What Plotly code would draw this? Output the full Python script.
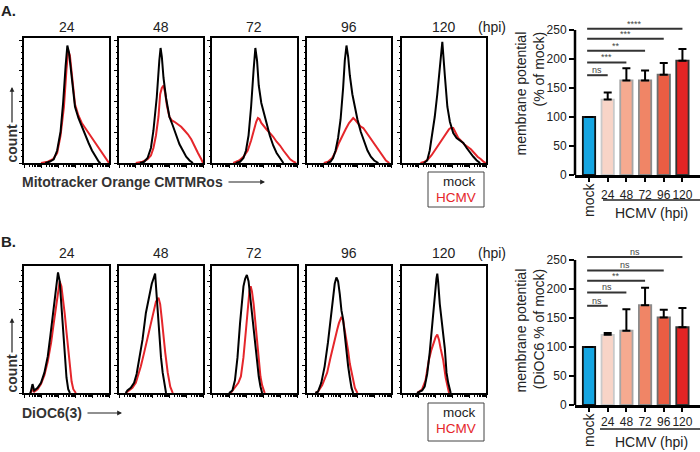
import math
import plotly.graph_objects as go

W, H = 700, 452

# ---------------- data ----------------
hpi_labels = ["24", "48", "72", "96", "120"]

# Flow histograms: (channel position 0-100, % of panel height)
mito_mock = [
    [(25,0),(30,1),(35,3),(39,10),(43,25),(46,48),(49,78),(51,94),(53,88),(56,68),(60,45),(64,36),(68,29),(72,22),(76,16),(80,10),(84,5),(88,1),(90,0)],
    [(25,0),(30,1),(34,4),(38,12),(41,26),(45,53),(48,82),(49.5,92),(51,85),(53,68),(56,52),(60,37),(64,30),(68,22),(72,15),(76,10),(80,5),(84,2),(88,0)],
    [(28,0),(33,1),(37,4),(40,10),(43,22),(46,45),(49,75),(51,92),(53,82),(55,62),(58,48),(61,40),(64,32),(68,22),(72,14),(76,8),(80,4),(84,0)],
    [(24,0),(28,1),(31,4),(34,10),(37,20),(40,35),(43,60),(45,82),(47,94),(49,85),(51,70),(54,55),(57,45),(60,35),(64,25),(68,17),(72,10),(76,5),(80,2),(85,0)],
    [(26,0),(30,2),(33,10),(36,22),(39,37),(42,55),(45,78),(47,92),(48,97),(51,70),(54,45),(57,33),(61,24),(65,20),(69,18),(73,16),(77,12),(81,8),(85,5),(89,2),(93,0)],
]
mito_hcmv = [
    [(20,0),(28,1),(34,3),(39,8),(43,22),(47,45),(50,75),(52,90),(54,86),(57,66),(60,47),(64,38),(68,32),(72,28),(76,24),(80,19),(84,15),(88,11),(92,7),(96,3),(100,0)],
    [(20,0),(28,1),(34,3),(38,6),(41,12),(44,22),(47,37),(49,55),(51,60),(53,62),(55,56),(57,46),(60,37),(63,34),(66,33),(70,31),(74,29),(78,26),(82,23),(86,19),(90,13),(94,8),(98,3),(100,0)],
    [(25,0),(32,2),(37,5),(42,10),(46,18),(49,26),(52,33),(54,36),(56,35),(58,32),(61,29),(64,27),(68,24),(72,21),(76,17),(80,14),(84,10),(88,6),(92,3),(96,1),(99,0)],
    [(20,0),(25,1),(30,4),(34,9),(38,16),(42,22),(46,27),(50,32),(53,35),(55,36),(58,34),(61,31),(64,29),(67,28),(70,25),(74,22),(78,17),(82,13),(86,9),(90,5),(94,2),(98,0)],
    [(22,0),(27,1),(31,3),(35,6),(39,10),(43,14),(47,18),(50,22),(53,25),(56,27),(58,28),(61,28),(64,24),(67,20),(70,18),(74,15),(78,13),(82,11),(86,8),(90,5),(94,3),(97,1),(100,0)],
]
dioc_mock = [
    [(7,0),(8,1),(10,7),(12,2),(16,4),(20,8),(24,16),(28,29),(31,45),(34,62),(37,82),(39,90),(40,95),(42,88),(44,68),(46,45),(48,28),(50,12),(52,3),(54,0)],
    [(8,0),(10,2),(14,4),(18,8),(21,15),(24,26),(28,42),(32,63),(36,78),(39,86),(41,90),(43,94),(45,75),(48,44),(50,28),(52,16),(54,6),(56,0)],
    [(20,0),(24,2),(27,10),(30,28),(33,55),(35,71),(37,84),(39,90),(41,93),(43,88),(45,75),(47,62),(49,50),(51,35),(53,22),(55,13),(57,5),(59,0)],
    [(10,0),(13,1),(17,8),(21,21),(25,40),(28,58),(31,75),(33,86),(35,91),(37,88),(39,78),(41,65),(43,58),(45,45),(47,32),(49,21),(51,12),(53,4),(55,0)],
    [(18,0),(24,2),(27,5),(30,15),(33,32),(36,55),(39,80),(41,90),(42,94),(43,88),(45,70),(47,58),(49,50),(51,35),(53,16),(55,8),(58,0)],
]
dioc_hcmv = [
    [(8,0),(10,3),(12,1),(16,3),(20,7),(24,14),(28,25),(32,40),(35,55),(38,70),(40,80),(42,88),(44,84),(46,75),(48,62),(50,48),(52,33),(54,20),(56,9),(58,3),(61,0)],
    [(8,0),(12,2),(16,4),(20,8),(26,21),(30,32),(36,50),(40,62),(44,72),(47,75),(49,70),(51,58),(53,44),(55,32),(58,16),(61,5),(64,0)],
    [(22,0),(27,4),(31,8),(34,13),(37,28),(40,50),(42,68),(44,80),(45.5,84),(47,80),(49,70),(51,55),(53,40),(55,26),(57,13),(59,6),(62,0)],
    [(10,0),(13,1),(18,6),(24,16),(28,28),(33,43),(36,50),(38,55),(40,58),(41,60),(43,57),(45,50),(47,43),(49,33),(51,23),(53,16),(55,9),(57,4),(60,0)],
    [(18,0),(24,3),(28,10),(32,26),(35,34),(38,40),(40,44),(42,46),(44,42),(46,35),(49,26),(52,12),(54,5),(56,0)],
]

bar_categories = ["mock", "24", "48", "72", "96", "120"]
mito_means = [100, 130, 163, 163, 173, 197]
mito_err = [0, 12, 21, 17, 20, 20]
dioc_means = [100, 121, 128, 172, 151, 134]
dioc_err = [0, 3, 37, 30, 13, 33]
sig_end = [1, 2, 3, 4, 5]
mito_sig_level = [172, 194, 214, 235, 252]
mito_sig_text = ["ns", "***", "**", "***", "****"]
dioc_sig_level = [171, 194, 214, 232, 255]
dioc_sig_text = ["ns", "ns", "**", "ns", "ns"]
y_ticks = [0, 50, 100, 150, 200, 250]

# ---------------- style ----------------
RED = "#e5262b"
TXT = "#222222"
bar_colors = ["#16a6e2", "#f8d4c7", "#f5aa90", "#f08566", "#ea5d43", "#e42424"]
bar_edges = ["#111111", "#c9c9c9", "#a5a5a5", "#8c8c8c", "#6e6e6e", "#333333"]
FONT = "Arial, Liberation Sans, sans-serif"


def fx(p):
    return p / W


def fy(p):
    return 1 - p / H


def note(x, y, text, size=14, color=TXT, xanchor="center", yanchor="middle", **kw):
    d = dict(x=x, y=y, xref=kw.pop("xref", "paper"), yref=kw.pop("yref", "paper"),
             text=text, showarrow=False, xanchor=xanchor, yanchor=yanchor,
             borderpad=0, borderwidth=0, font=dict(size=size, color=color))
    d.update(kw)
    return d


fig = go.Figure()
layout = dict(
    width=W, height=H, margin=dict(l=0, r=0, t=0, b=0, pad=0, autoexpand=False),
    paper_bgcolor="white", plot_bgcolor="white", showlegend=False,
    font=dict(family=FONT, color=TXT),
)
annotations = []
shapes = []

hist_x_px = [(24, 109), (119, 203), (212, 297), (307, 391), (402, 486)]
major_x = [0, 20, 40, 60, 80, 100]
minor_x = [d + 20 * math.log10(k) for d in (0, 20, 40, 60, 80) for k in range(2, 10)]

rows = [
    (mito_mock, mito_hcmv, (38, 163), 24.6, 0, 27),
    (dioc_mock, dioc_hcmv, (266, 393), 22.0, 5, 253),
]
for mock, hcmv, (top, bot), dt, off, ty in rows:
    for i in range(5):
        k = off + i + 1
        sfx = "" if k == 1 else str(k)
        xa, ya = "x" + sfx, "y" + sfx
        for series, col in ((hcmv, RED), (mock, "black")):
            xs = [p[0] for p in series[i]]
            ys = [p[1] for p in series[i]]
            fig.add_trace(go.Scatter(x=xs, y=ys, mode="lines",
                                     line=dict(color=col, width=2),
                                     xaxis=xa, yaxis=ya, hoverinfo="skip"))
        x0, x1 = hist_x_px[i]
        layout["xaxis" + sfx] = dict(
            domain=[fx(x0), fx(x1)], range=[0, 100], anchor=ya, automargin=False,
            showline=True, mirror=True, linecolor="black", linewidth=2,
            ticks="outside", tickvals=major_x, ticklen=3, tickwidth=1.2,
            tickcolor="black", showticklabels=False, showgrid=False, zeroline=False,
            minor=dict(tickvals=minor_x, ticks="outside", ticklen=2, tickwidth=1,
                       tickcolor="black", showgrid=False),
        )
        layout["yaxis" + sfx] = dict(
            domain=[fy(bot), fy(top)], range=[0, 100], anchor=xa, automargin=False,
            showline=True, mirror=True, linecolor="black", linewidth=2,
            ticks="outside", tick0=0, dtick=dt, ticklen=3, tickwidth=1.2,
            tickcolor="black", showticklabels=False, showgrid=False, zeroline=False,
            minor=dict(dtick=dt / 5, ticks="outside", ticklen=1.5, tickwidth=1,
                       tickcolor="black", showgrid=False),
        )
        annotations.append(note(fx((x0 + x1) / 2), fy(ty), hpi_labels[i]))
    annotations.append(note(fx(491.5), fy(ty), "(hpi)"))

# panel letters
annotations.append(note(fx(1), fy(10), "<b>A.</b>", size=15, xanchor="left"))
annotations.append(note(fx(1), fy(241), "<b>B.</b>", size=15, xanchor="left"))

# count labels + arrows
for (cy_mid, a_tail, a_tip) in ((144, 124, 87), (374, 354, 318)):
    annotations.append(note(fx(11.5), fy(cy_mid), "<b>count</b>", color="#333333",
                            textangle=-90))
    annotations.append(dict(x=fx(12), y=fy(a_tip), xref="paper", yref="paper", text="",
                            showarrow=True, ax=0, ay=a_tail - a_tip, arrowhead=2,
                            arrowsize=0.8, arrowwidth=1.2, arrowcolor="#222222"))

# x labels + arrows
for (txt, ly, a_tail, a_tip) in (("Mitotracker Orange CMTMRos", 182, 227, 265),
                                 ("DiOC6(3)", 413, 86, 122)):
    annotations.append(note(fx(22), fy(ly), "<b>" + txt + "</b>", color="#333333",
                            xanchor="left"))
    annotations.append(dict(x=fx(a_tip), y=fy(ly), xref="paper", yref="paper", text="",
                            showarrow=True, ax=a_tail - a_tip, ay=0, arrowhead=2,
                            arrowsize=0.8, arrowwidth=1.2, arrowcolor="#222222"))

# legend boxes
for (bt, bb, my, hy) in ((172, 207, 181, 197), (403, 441, 412, 428)):
    shapes.append(dict(type="rect", xref="paper", yref="paper", x0=fx(428), x1=fx(484),
                       y0=fy(bb), y1=fy(bt), line=dict(color="#444444", width=1)))
    annotations.append(note(fx(476), fy(my), "mock", size=13.5, xanchor="right"))
    annotations.append(note(fx(476), fy(hy), "HCMV", size=13.5, color=RED, xanchor="right"))

# ---------------- bar charts ----------------
bar_rows = [
    (mito_means, mito_err, mito_sig_level, mito_sig_text, (23, 175), 11,
     "membrane potential<br>(% of mock)", 94, 3, (200, 603, 213, 200)),
    (dioc_means, dioc_err, dioc_sig_level, dioc_sig_text, (253, 405), 12,
     "membrane potential<br>(DiOC6 % of mock)", 331, 0, (430, 600, 442, 429)),
]
xpos = list(range(len(bar_categories)))
for means, err, lev, stxt, (top, bot), k, ytitle, ymid, stand, (mock_y, ul_x0, hc_y, ul_y) in bar_rows:
    xa, ya = "x%d" % k, "y%d" % k
    fig.add_trace(go.Bar(
        x=xpos, y=means, width=0.66, xaxis=xa, yaxis=ya,
        marker=dict(color=bar_colors, line=dict(color=bar_edges, width=1.8)),
        error_y=dict(type="data", array=err, arrayminus=[0] * len(err), symmetric=False,
                     color="black", thickness=2, width=4),
        hoverinfo="skip",
    ))
    layout["xaxis%d" % k] = dict(
        domain=[fx(575), 1.0], range=[-0.75, 5.94], anchor=ya, automargin=False,
        showline=True, linecolor="black", linewidth=2.5, tickangle=0,
        ticks="outside", tickvals=xpos, ticktext=[""] + bar_categories[1:],
        ticklen=4, tickwidth=1.5, tickcolor="black", ticklabelstandoff=stand,
        tickfont=dict(size=12, color=TXT), showgrid=False, zeroline=False,
    )
    layout["yaxis%d" % k] = dict(
        domain=[fy(bot), fy(top)], range=[0, 262], anchor=xa, automargin=False,
        showline=False, ticks="outside", tickvals=y_ticks, ticklen=5, tickwidth=2,
        tickcolor="black", tickfont=dict(size=12, color=TXT),
        showgrid=False, zeroline=False,
    )
    # y axis line up to 250
    shapes.append(dict(type="line", xref="paper", yref=ya, x0=fx(575), x1=fx(575),
                       y0=0, y1=y_ticks[-1], line=dict(color="black", width=2.5)))
    # significance bars
    for e, lv, t in zip(sig_end, lev, stxt):
        shapes.append(dict(type="line", xref=xa, yref=ya, x0=-0.1, x1=e, y0=lv, y1=lv,
                           line=dict(color="#333333", width=2)))
        annotations.append(note((e - 0.1) / 2, lv, t, size=9, color="#444444",
                                xref=xa, yref=ya, yanchor="bottom", yshift=0))
    # y title
    annotations.append(note(fx(529.5), fy(ymid), ytitle, textangle=-90, align="right"))
    # mock label rotated
    annotations.append(note(0, fy(mock_y), bar_categories[0], xref=xa, textangle=-90))
    # HCMV group underline and label
    shapes.append(dict(type="line", xref="paper", yref="paper", x0=fx(ul_x0), x1=1.0,
                       y0=fy(ul_y), y1=fy(ul_y), line=dict(color="#222222", width=1.5)))
    annotations.append(note(fx(651), fy(hc_y), "HCMV (hpi)"))

layout["annotations"] = annotations
layout["shapes"] = shapes
fig.update_layout(**layout)
fig.write_html("out.html", config={"displayModeBar": False},
               post_script="document.body.style.margin='0';document.body.style.padding='0';")
